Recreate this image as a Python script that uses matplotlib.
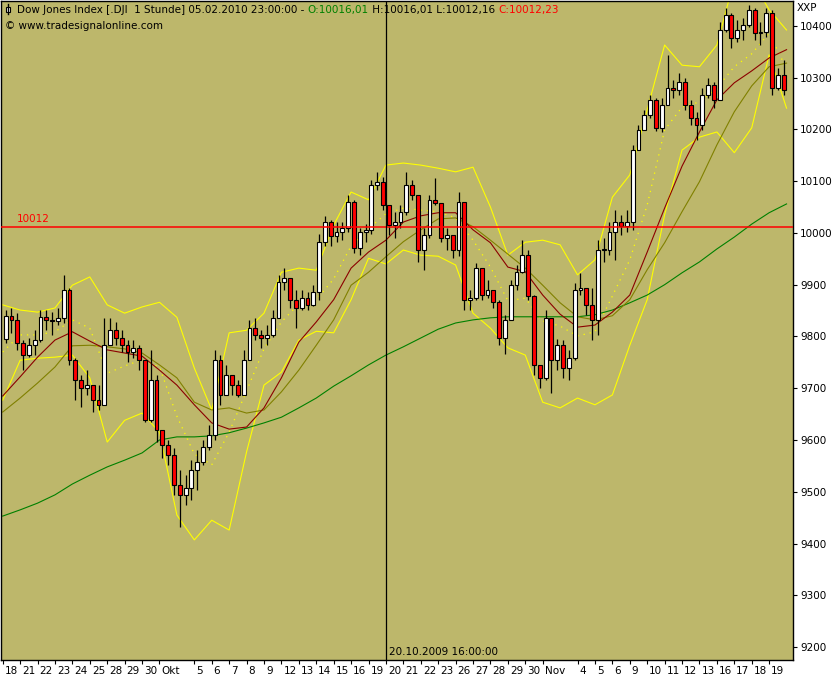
import numpy as np
import matplotlib
matplotlib.use("Agg")
import matplotlib.pyplot as plt
from matplotlib.patches import Rectangle
from matplotlib.transforms import IdentityTransform, ScaledTranslation

# Stundenkerzen, hier zu 3 Kerzen pro Handelstag zusammengefasst (18.09. - 19.11.2009)
first_open = 9795
closes = [9840, 9832, 9788, 9764, 9784, 9793, 9838, 9832, 9830, 9836, 9890, 9755,
          9716, 9700, 9706, 9677, 9668, 9784, 9813, 9797, 9784, 9770, 9778, 9755,
          9639, 9716, 9619, 9590, 9571, 9513, 9494, 9507, 9542, 9558, 9587, 9610,
          9755, 9687, 9726, 9706, 9687, 9755, 9817, 9803, 9797, 9803, 9836, 9905,
          9913, 9870, 9855, 9874, 9861, 9886, 9983, 10021, 9994, 10002, 10010, 10060,
          9971, 10002, 10006, 10093, 10099, 10054, 10015, 10021, 10041, 10093, 10073, 9967,
          9996, 10064, 10058, 9990, 9996, 9967, 10060, 9870, 9874, 9932, 9880, 9890,
          9867, 9797, 9832, 9900, 9925, 9958, 9878, 9745, 9720, 9836, 9755, 9784,
          9739, 9758, 9890, 9894, 9861, 9832, 9967, 9967, 10002, 10021, 10013, 10021,
          10160, 10199, 10228, 10257, 10203, 10247, 10280, 10276, 10292, 10247, 10222, 10209,
          10267, 10286, 10257, 10392, 10421, 10377, 10392, 10402, 10431, 10387, 10388, 10425,
          10280, 10305, 10276]
highs = [9851, 9855, 9845, 9793, 9797, 9813, 9851, 9851, 9847, 9855, 9918, 9893,
         9759, 9726, 9735, 9706, 9706, 9836, 9836, 9828, 9813, 9793, 9793, 9784,
         9755, 9774, 9726, 9619, 9600, 9584, 9542, 9532, 9561, 9581, 9600, 9629,
         9774, 9764, 9745, 9726, 9716, 9774, 9832, 9836, 9813, 9822, 9851, 9918,
         9932, 9909, 9890, 9890, 9886, 9899, 9997, 10033, 10025, 10021, 10021, 10073,
         10064, 10010, 10017, 10102, 10118, 10108, 10054, 10041, 10054, 10118, 10102, 10073,
         10010, 10073, 10106, 10058, 10010, 9996, 10079, 10060, 9890, 9942, 9928, 9909,
         9890, 9870, 9841, 9909, 9938, 9986, 9967, 9880, 9745, 9851, 9836, 9795,
         9793, 9774, 9903, 9923, 9894, 9894, 9986, 9990, 10021, 10044, 10035, 10044,
         10170, 10209, 10238, 10267, 10261, 10261, 10344, 10296, 10309, 10300, 10257, 10234,
         10280, 10300, 10292, 10408, 10435, 10425, 10412, 10415, 10441, 10435, 10408, 10435,
         10431, 10319, 10334]
lows = [9788, 9807, 9774, 9735, 9760, 9764, 9790, 9813, 9803, 9823, 9826, 9745,
        9677, 9663, 9687, 9655, 9658, 9668, 9784, 9784, 9770, 9751, 9759, 9735,
        9635, 9635, 9596, 9565, 9552, 9494, 9432, 9474, 9484, 9503, 9552, 9581,
        9600, 9668, 9687, 9687, 9683, 9687, 9759, 9793, 9778, 9784, 9799, 9836,
        9890, 9855, 9816, 9851, 9851, 9859, 9870, 9975, 9975, 9983, 9986, 10002,
        9961, 9957, 9983, 9997, 10083, 10044, 9996, 9990, 10010, 10035, 10064, 9944,
        9929, 9990, 10054, 9983, 9967, 9952, 9955, 9851, 9851, 9870, 9870, 9874,
        9855, 9784, 9766, 9836, 9890, 9923, 9870, 9726, 9700, 9716, 9690, 9735,
        9720, 9716, 9755, 9880, 9842, 9793, 9803, 9944, 9958, 9948, 9996, 10002,
        10006, 10160, 10199, 10222, 10197, 10195, 10247, 10261, 10267, 10238, 10209, 10180,
        10199, 10261, 10241, 10257, 10388, 10358, 10369, 10373, 10398, 10373, 10363, 10379,
        10267, 10276, 10267]

bb_oben = [9861, 9851, 9847, 9855, 9899, 9915, 9861, 9845, 9857, 9866, 9837, 9739,
           9658, 9807, 9812, 9845, 9924, 9932, 9928, 10015, 10079, 10064, 10131, 10135,
           10131, 10125, 10118, 10127, 10050, 9957, 9982, 9986, 9977, 9919, 9948, 10069,
           10112, 10238, 10363, 10324, 10321, 10363, 10489, 10489, 10431, 10392]
bb_unten = [9677, 9754, 9758, 9760, 9764, 9720, 9596, 9638, 9652, 9615, 9455, 9407,
            9445, 9426, 9577, 9706, 9731, 9793, 9810, 9807, 9871, 9951, 9940, 9967,
            9957, 9955, 9938, 9845, 9816, 9778, 9764, 9673, 9662, 9681, 9668, 9687,
            9783, 9871, 10035, 10160, 10185, 10195, 10155, 10203, 10344, 10241]
bb_mitte = [9770, 9803, 9803, 9809, 9832, 9816, 9729, 9743, 9755, 9741, 9646, 9573,
            9552, 9615, 9695, 9776, 9828, 9863, 9871, 9911, 9975, 10008, 10037, 10048,
            10044, 10041, 10029, 9986, 9934, 9869, 9874, 9830, 9820, 9801, 9809, 9878,
            9948, 10054, 10199, 10243, 10253, 10280, 10321, 10346, 10386, 10317]
ma_rot = [9685, 9722, 9760, 9793, 9809, 9791, 9774, 9768, 9762, 9735, 9706, 9668,
          9633, 9621, 9625, 9662, 9720, 9789, 9828, 9871, 9932, 9963, 9986, 10021,
          10033, 10039, 10039, 10006, 9981, 9934, 9925, 9880, 9843, 9818, 9822, 9847,
          9880, 9963, 10048, 10129, 10195, 10257, 10290, 10313, 10338, 10354]
ma_oliv = [9654, 9681, 9710, 9741, 9782, 9783, 9780, 9776, 9768, 9745, 9720, 9673,
           9658, 9662, 9652, 9658, 9693, 9735, 9783, 9832, 9899, 9924, 9954, 9983,
           10006, 10027, 10029, 10012, 9986, 9959, 9932, 9899, 9865, 9838, 9832, 9840,
           9871, 9929, 9981, 10041, 10099, 10170, 10234, 10284, 10321, 10328]
ma_gruen = [9453, 9465, 9478, 9494, 9515, 9532, 9548, 9561, 9575, 9600, 9606, 9606,
            9608, 9614, 9623, 9633, 9644, 9662, 9681, 9704, 9724, 9745, 9764, 9780,
            9797, 9814, 9826, 9832, 9836, 9838, 9838, 9838, 9838, 9838, 9842, 9851,
            9865, 9880, 9900, 9923, 9944, 9969, 9992, 10017, 10039, 10056]

tage = ["18", "21", "22", "23", "24", "25", "28", "29", "30", "Okt", "", "5", "6", "7", "8",
        "9", "12", "13", "14", "15", "16", "19", "20", "21", "22", "23", "26", "27", "28",
        "29", "30", "Nov", "", "4", "5", "6", "9", "10", "11", "12", "13", "16", "17", "18", "19"]
linie_wert = 10012
kreuz_tag = 22
kreuz_text = "20.10.2009 16:00:00"

pro_tag = 3
hintergrund = "#BDB76B"

fig = plt.figure(figsize=(8.4, 6.8), dpi=100)
ax = fig.add_axes([1 / 840, 20 / 680, 792 / 840, 659 / 680])
ax.set_facecolor(hintergrund)

# Indikatorlinien
tx = np.arange(len(bb_oben))
ax.plot(tx, bb_oben, color="#FFFF00", lw=0.8, zorder=2)
ax.plot(tx, bb_unten, color="#FFFF00", lw=0.8, zorder=2)
ax.plot(tx, bb_mitte, color="#FFFF00", lw=0.9, ls=(0, (1, 4)), zorder=2)
ax.plot(tx, ma_gruen, color="#008000", lw=0.8, zorder=2)
ax.plot(tx, ma_oliv, color="#808000", lw=0.8, zorder=2)
ax.plot(tx, ma_rot, color="#8B0000", lw=0.8, zorder=2)

# Kerzen
c = np.array(closes, dtype=float)
o = np.concatenate([[first_open], c[:-1]])
h = np.maximum(np.array(highs, dtype=float), np.maximum(o, c))
l = np.minimum(np.array(lows, dtype=float), np.minimum(o, c))
cx = (np.arange(len(c)) + 0.5) / pro_tag
ax.vlines(cx, l, h, color="black", lw=0.9, zorder=3)
steigend = c >= o
farben = np.where(steigend, "white", "#FF0000")
unten = np.minimum(o, c)
hoehe = np.maximum(np.abs(c - o), 1.5)
ax.bar(cx, hoehe, bottom=unten, width=0.22, color=farben, edgecolor="black",
       linewidth=0.8, zorder=4)

# waagerechte Linie + Fadenkreuz
ax.axhline(linie_wert, color="#FF0000", lw=1.1, zorder=5)
ax.text(0.8, linie_wert + 6, str(linie_wert), color="#FF0000", fontsize=7.5,
        va="bottom", ha="left", zorder=6)
ax.axvline(kreuz_tag, color="black", lw=0.9, zorder=6)
ax.text(kreuz_tag + 0.15, 9180, kreuz_text, fontsize=7.5, va="bottom", ha="left", zorder=6)

# Achsen
ax.set_xlim(-0.098, 45.37)
ax.set_ylim(9175, 10448)
ax.yaxis.tick_right()
ax.set_yticks(np.arange(9200, 10401, 100))
ax.set_yticklabels([str(v) for v in range(9200, 10401, 100)])
ax.tick_params(axis="y", direction="out", length=3, pad=2, labelsize=7.5, width=0.8)
pos = [i for i, t in enumerate(tage) if t]
ax.set_xticks(pos)
ax.set_xticklabels([tage[i] for i in pos], ha="left")
ax.tick_params(axis="x", direction="out", length=3, pad=1, labelsize=7.5, width=0.8)
versatz = ScaledTranslation(2 / 100, 0, fig.dpi_scale_trans)
for lbl in ax.get_xticklabels():
    lbl.set_transform(lbl.get_transform() + versatz)
for s in ax.spines.values():
    s.set_linewidth(1.0)
fig.text(797 / 840, 1 - 8 / 680, "XXP", fontsize=7.5, va="center", ha="left")

# Kopfzeile
t1 = ax.text(16 / 792, 1 - 9 / 659, "Dow Jones Index [.DJI  1 Stunde] 05.02.2010 23:00:00 - ",
             transform=ax.transAxes, fontsize=7.5, va="center", ha="left", zorder=7)
t2 = ax.annotate("O:10016,01", xy=(1, 0), xycoords=t1, va="bottom", ha="left",
                 fontsize=7.5, color="#008000", zorder=7)
t3 = ax.annotate(" H:10016,01 L:10012,16 ", xy=(1, 0), xycoords=t2, va="bottom",
                 ha="left", fontsize=7.5, zorder=7)
ax.annotate("C:10012,23", xy=(1, 0), xycoords=t3, va="bottom", ha="left",
            fontsize=7.5, color="#FF0000", zorder=7)
ax.text(4 / 792, 1 - 25 / 659, "\u00a9 www.tradesignalonline.com", transform=ax.transAxes,
        fontsize=7.5, va="center", ha="left", zorder=7)
fig.add_artist(plt.Line2D([7.5, 7.5], [680 - 14, 680 - 4], color="black", lw=1,
                          transform=IdentityTransform()))
fig.add_artist(Rectangle((5.5, 680 - 12), 4, 5, facecolor="white", edgecolor="black",
                         lw=0.8, transform=IdentityTransform()))

fig.savefig("out.png", dpi=100, facecolor="white")
